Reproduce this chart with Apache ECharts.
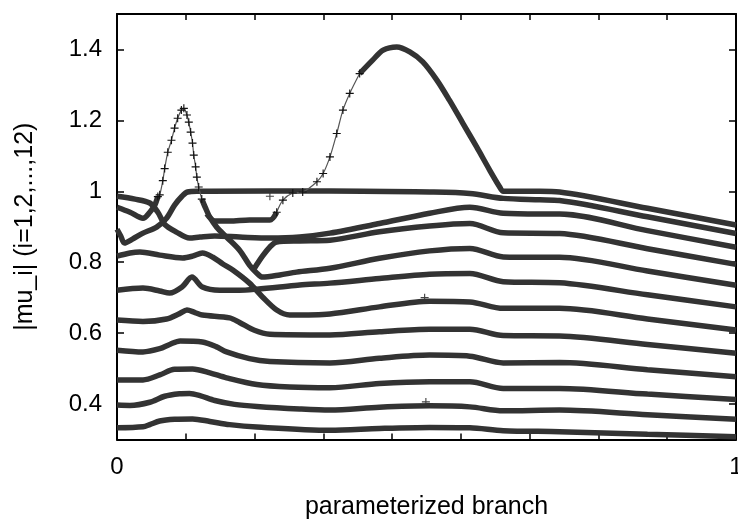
<!DOCTYPE html>
<html><head><meta charset="utf-8">
<script src="https://cdn.jsdelivr.net/npm/echarts@6/dist/echarts.min.js"></script>
<style>html,body{margin:0;padding:0;background:#fff}#c{width:738px;height:519px}</style>
</head><body><div id="c"></div>
<script>
// x ticks (ninths), labels only at ends
const xTicks = [0, 1/9, 2/9, 3/9, 4/9, 5/9, 6/9, 7/9, 8/9, 1];
const xLabels = [0, 1];
const yTicks = [0.4, 0.6, 0.8, 1.0, 1.2, 1.4];

// |mu_i| branches, [x, y] (dense parts)
const muTopBowl = [[0,0.986],[0.029,0.978],[0.053,0.967],[0.066,0.941],[0.077,0.907],[0.096,0.885],[0.117,0.868],[0.134,0.871],[0.158,0.874],[0.198,0.871],[0.247,0.868],[0.295,0.871],[0.344,0.882],[0.424,0.909],[0.505,0.938],[0.570,0.955],[0.624,0.938],[0.683,0.936],[0.715,0.936],[0.857,0.889],[1.0,0.842]];
const muSharpLeft = [[0,0.955],[0.021,0.941],[0.042,0.924],[0.053,0.941],[0.061,0.961],[0.066,0.985]];
const muSharpRight = [[0.137,0.978],[0.143,0.953],[0.150,0.927],[0.161,0.899],[0.177,0.871],[0.198,0.834],[0.214,0.792],[0.226,0.769],[0.235,0.758],[0.263,0.764],[0.290,0.772],[0.344,0.783],[0.424,0.811],[0.505,0.832],[0.570,0.839],[0.624,0.815],[0.683,0.814],[0.715,0.814],[0.857,0.775],[1.0,0.735]];
const muDome = [[0,0.893],[0.006,0.874],[0.012,0.854],[0.025,0.865],[0.042,0.882],[0.064,0.899],[0.080,0.924],[0.093,0.961],[0.105,0.986],[0.114,0.998],[0.129,1.0],[0.150,1.0],[0.344,1.001],[0.505,0.998],[0.570,0.994],[0.624,0.980],[0.683,0.976],[0.715,0.974],[0.857,0.928],[1.0,0.881]];
const muBigLeft = [[0.145,0.936],[0.158,0.916],[0.182,0.916],[0.214,0.919],[0.247,0.919],[0.258,0.941]];
const muBigRight = [[0.392,1.332],[0.413,1.370],[0.430,1.398],[0.452,1.407],[0.473,1.393],[0.494,1.365],[0.517,1.313],[0.537,1.257],[0.559,1.191],[0.581,1.125],[0.602,1.060],[0.618,1.013],[0.624,1.0],[0.683,1.0],[0.715,0.998],[0.857,0.952],[1.0,0.905]];
const muRise = [[0.222,0.783],[0.235,0.817],[0.247,0.843],[0.258,0.857],[0.295,0.860],[0.344,0.862],[0.424,0.886],[0.505,0.902],[0.570,0.909],[0.624,0.883],[0.715,0.881],[0.857,0.838],[1.0,0.794]];
const muE = [[0,0.817],[0.021,0.826],[0.037,0.829],[0.069,0.820],[0.106,0.812],[0.122,0.817],[0.138,0.826],[0.155,0.814],[0.171,0.795],[0.187,0.778],[0.214,0.741],[0.235,0.702],[0.258,0.665],[0.279,0.651],[0.344,0.654],[0.424,0.674],[0.505,0.690],[0.570,0.688],[0.624,0.670],[0.683,0.670],[0.715,0.670],[0.857,0.640],[1.0,0.609]];
const muF = [[0,0.721],[0.042,0.727],[0.069,0.719],[0.085,0.713],[0.105,0.730],[0.121,0.758],[0.138,0.730],[0.166,0.721],[0.198,0.721],[0.226,0.724],[0.263,0.730],[0.295,0.736],[0.344,0.741],[0.424,0.754],[0.505,0.766],[0.570,0.768],[0.624,0.745],[0.715,0.742],[0.857,0.708],[1.0,0.674]];
const muG = [[0,0.637],[0.042,0.633],[0.080,0.640],[0.101,0.655],[0.113,0.665],[0.126,0.658],[0.138,0.651],[0.182,0.643],[0.198,0.630],[0.222,0.608],[0.247,0.597],[0.344,0.595],[0.424,0.604],[0.505,0.611],[0.570,0.611],[0.624,0.593],[0.715,0.592],[0.857,0.568],[1.0,0.543]];
const muH = [[0,0.552],[0.042,0.547],[0.069,0.556],[0.085,0.568],[0.102,0.578],[0.138,0.575],[0.160,0.562],[0.177,0.547],[0.214,0.528],[0.247,0.520],[0.344,0.516],[0.424,0.529],[0.505,0.538],[0.570,0.535],[0.624,0.516],[0.715,0.517],[0.857,0.497],[1.0,0.477]];
const muI = [[0,0.468],[0.042,0.468],[0.069,0.482],[0.093,0.498],[0.122,0.499],[0.150,0.488],[0.177,0.474],[0.226,0.455],[0.279,0.448],[0.344,0.446],[0.424,0.458],[0.505,0.463],[0.570,0.463],[0.624,0.444],[0.715,0.444],[0.857,0.428],[1.0,0.413]];
const muJ = [[0,0.397],[0.021,0.396],[0.053,0.405],[0.077,0.422],[0.101,0.429],[0.117,0.430],[0.134,0.424],[0.158,0.410],[0.190,0.399],[0.226,0.393],[0.295,0.386],[0.344,0.383],[0.424,0.391],[0.505,0.395],[0.570,0.392],[0.624,0.381],[0.715,0.383],[0.857,0.370],[1.0,0.357]];
const muK = [[0,0.333],[0.042,0.336],[0.053,0.342],[0.069,0.352],[0.093,0.357],[0.122,0.358],[0.150,0.351],[0.182,0.342],[0.226,0.335],[0.344,0.326],[0.424,0.331],[0.505,0.334],[0.570,0.333],[0.624,0.325],[0.715,0.322],[0.857,0.315],[1.0,0.308]];

// sparse parts drawn as separate '+' points
const muSharpPeak = [[0.066,0.985],[0.069,0.990],[0.074,1.03],[0.077,1.064],[0.082,1.11],[0.088,1.144],[0.093,1.178],[0.098,1.206],[0.104,1.229],[0.108,1.234],[0.113,1.215],[0.116,1.195],[0.119,1.167],[0.122,1.136],[0.124,1.102],[0.127,1.069],[0.129,1.040],[0.132,1.012],[0.137,0.978]];
const muBigRiseSparse = [[0.258,0.941],[0.268,0.975],[0.284,0.995],[0.300,0.998],[0.323,1.027],[0.333,1.050],[0.344,1.097],[0.355,1.163],[0.365,1.229],[0.376,1.276],[0.392,1.332]];
const strayPoints = [[0.247,0.986],[0.497,0.700],[0.499,0.406]];

const denseBranches = [muTopBowl, muSharpLeft, muSharpRight, muDome, muBigLeft, muBigRight, muRise, muE, muF, muG, muH, muI, muJ, muK];
const sparseBranches = [muSharpPeak, muBigRiseSparse];

const PLUS = 'path://M0,4.3L10,4.3L10,5.7L0,5.7Z M4.3,0L5.7,0L5.7,10L4.3,10Z';
const FONT = 'Liberation Sans, Arial, sans-serif';
const chart = echarts.init(document.getElementById('c'), null, {renderer: 'canvas'});
const axisLine = {show: true, onZero: false, lineStyle: {color: '#000', width: 2}};
const tickStyle = {color: '#000', width: 1.5};

const series = [];
denseBranches.forEach(d => series.push({
  type: 'line', data: d, showSymbol: false, smooth: 0.3, clip: true,
  lineStyle: {color: '#333', width: 5.5}
}));
sparseBranches.forEach(d => series.push({
  type: 'line', data: d, showSymbol: true, symbol: PLUS, symbolSize: 8, smooth: 0.3, clip: true,
  itemStyle: {color: '#111'}, lineStyle: {color: '#555', width: 1.2}
}));
series.push({type: 'scatter', data: strayPoints, symbol: PLUS, symbolSize: 8, itemStyle: {color: '#111'}});

chart.setOption({
  animation: false,
  backgroundColor: '#fff',
  grid: {left: 117, right: 2, top: 14, bottom: 79.5, containLabel: false, outerBoundsMode: 'none'},
  xAxis: [
    {type: 'value', position: 'bottom', min: 0, max: 1,
     axisLine: axisLine, splitLine: {show: false},
     axisTick: {show: true, inside: true, length: 6, lineStyle: tickStyle, customValues: xTicks},
     axisLabel: {show: true, customValues: xLabels, margin: 16, fontSize: 24, color: '#000', fontFamily: FONT,
                 formatter: v => String(Math.round(v))},
     name: 'parameterized branch', nameLocation: 'middle', nameGap: 55,
     nameTextStyle: {fontSize: 25, color: '#000', fontFamily: FONT}},
    {type: 'value', position: 'top', min: 0, max: 1,
     axisLine: axisLine, splitLine: {show: false},
     axisTick: {show: true, inside: true, length: 6, lineStyle: tickStyle, customValues: xTicks},
     axisLabel: {show: false}}
  ],
  yAxis: [
    {type: 'value', position: 'left', min: 0.3, max: 1.5,
     axisLine: axisLine, splitLine: {show: false},
     axisTick: {show: true, inside: true, length: 7, lineStyle: tickStyle, customValues: yTicks},
     axisLabel: {show: true, customValues: yTicks, margin: 15, fontSize: 24, color: '#000', fontFamily: FONT,
                 formatter: v => String(+v.toFixed(1))},
     name: '|mu_i| (i=1,2,...,12)', nameLocation: 'middle', nameRotate: 90, nameGap: 79,
     nameTextStyle: {fontSize: 25, color: '#000', fontFamily: FONT}},
    {type: 'value', position: 'right', min: 0.3, max: 1.5,
     axisLine: axisLine, splitLine: {show: false},
     axisTick: {show: true, inside: true, length: 7, lineStyle: tickStyle, customValues: yTicks},
     axisLabel: {show: false}}
  ],
  series: series
});
</script></body></html>
